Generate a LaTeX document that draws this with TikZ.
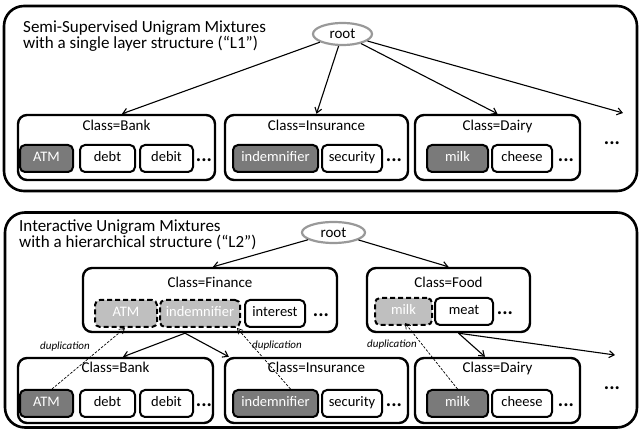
\documentclass[tikz,border=0pt]{standalone}
\usepackage{fontspec}
\setmainfont{Carlito}
\usetikzlibrary{arrows.meta,shapes.geometric}
\definecolor{darkw}{HTML}{7A7A7A}
\definecolor{lightw}{HTML}{BFBFBF}
\definecolor{rootc}{HTML}{999999}
\begin{document}
\begin{tikzpicture}[x=1pt,y=-1pt,
  outerbox/.style={draw, line width=2.6pt, rounded corners=20pt},
  classbox/.style={draw, line width=2.4pt, rounded corners=9pt, minimum height=65pt, inner sep=0pt},
  clabel/.style={anchor=base, inner sep=0pt, font=\fontsize{15}{17}\selectfont},
  title/.style={anchor=base west, inner sep=0pt, font=\fontsize{17}{19}\selectfont},
  wordbox/.style={draw, line width=2pt, rounded corners=5pt, minimum height=27pt, inner sep=0pt,
    text height=9.5pt, text depth=3pt, fill=white, font=\fontsize{14.5}{16}\selectfont},
  known/.style={wordbox, fill=darkw, text=white},
  dup/.style={wordbox, dash pattern=on 5pt off 3pt, fill=lightw, text=white},
  rootnode/.style={draw=rootc, ellipse, line width=2.2pt, inner sep=0pt, font=\fontsize{15}{17}\selectfont},
  more/.style={anchor=base, inner sep=0pt, font=\fontsize{20}{20}\selectfont\bfseries},
  arr/.style={line width=1.1pt, -{Straight Barb[length=5pt,width=7pt]}},
  duparr/.style={line width=0.7pt, dash pattern=on 2.5pt off 1.5pt, -{Straight Barb[length=5pt,width=6pt]}},
  duplabel/.style={inner sep=0pt, font=\fontsize{11}{13}\selectfont\itshape}
]
\useasboundingbox (0,0) rectangle (641,430);

% ---------- L1 ----------
\node[outerbox, minimum width=633pt, minimum height=185pt] (outer1) at (320.5,98.5) {};
\node[title] (t1a) at (23,33) {Semi-Supervised Unigram Mixtures};
\node[title] (t1b) at (23,49) {with a single layer structure (“L1”)};
\node[rootnode, minimum width=59pt, minimum height=22pt] (root1) at (342.5,34) {root};

\node[classbox, minimum width=197pt] (bank1) at (116.5,147.5) {};
\node[clabel] (bank1l) at (116.5,131) {Class=Bank};
\node[known, minimum width=53pt] (atm1) at (46.5,158.5) {ATM};
\node[wordbox, minimum width=55pt] (debt1) at (107.5,158.5) {debt};
\node[wordbox, minimum width=53pt] (debit1) at (166.5,158.5) {debit};
\node[more] (m1a) at (204,162) {...};

\node[classbox, minimum width=183pt] (ins1) at (316.5,147.5) {};
\node[clabel] (ins1l) at (316.5,131) {Class=Insurance};
\node[known, minimum width=85pt] (ind1) at (275.5,158.5) {indemnifier};
\node[wordbox, minimum width=60pt] (sec1) at (352,158.5) {security};
\node[more] (m1b) at (394,162) {...};

\node[classbox, minimum width=165pt] (dairy1) at (497.5,147.5) {};
\node[clabel] (dairy1l) at (497.5,131) {Class=Dairy};
\node[known, minimum width=61pt] (milk1) at (457.5,158.5) {milk};
\node[wordbox, minimum width=60pt] (cheese1) at (522,158.5) {cheese};
\node[more] (m1c) at (566,162) {...};
\node[more] (m1d) at (612,145) {...};

\coordinate (r1) at (623,113);
\draw[arr] (root1) -- ([xshift=5.5pt]bank1.north);
\draw[arr] (root1) -- (ins1.north);
\draw[arr] (root1) -- (dairy1.north);
\draw[arr] (root1) -- (r1);

% ---------- L2 ----------
\node[outerbox, minimum width=632pt, minimum height=215pt] (outer2) at (321,320) {};
\node[title] (t2a) at (19,232) {Interactive Unigram Mixtures};
\node[title] (t2b) at (19,248) {with a hierarchical structure (“L2”)};
\node[rootnode, minimum width=63pt, minimum height=21pt] (root2) at (333.5,232.5) {root};

\node[classbox, minimum width=254pt, minimum height=64pt] (fin) at (210,300) {};
\node[clabel] (finl) at (210,288) {Class=Finance};
\node[dup, minimum width=62pt] (atmd) at (126,313.5) {ATM};
\node[dup, minimum width=80pt] (indd) at (200,313.5) {indemnifier};
\node[wordbox, minimum width=60pt] (int) at (275,313.5) {interest};
\node[more] (m2a) at (321,317) {...};

\node[classbox, minimum width=163pt, minimum height=64pt] (food) at (448.5,300) {};
\node[clabel] (foodl) at (448.5,288) {Class=Food};
\node[dup, minimum width=57pt] (milkd) at (403.5,311.5) {milk};
\node[wordbox, minimum width=58pt] (meat) at (464,311.5) {meat};
\node[more] (m2b) at (505,315) {...};

\node[classbox, minimum width=195pt] (bank2) at (115.5,390.5) {};
\node[clabel] (bank2l) at (115.5,373) {Class=Bank};
\node[known, minimum width=53pt] (atm2) at (46.5,403.5) {ATM};
\node[wordbox, minimum width=55pt] (debt2) at (107.5,403.5) {debt};
\node[wordbox, minimum width=53pt] (debit2) at (166.5,403.5) {debit};
\node[more] (m2c) at (204,407) {...};

\node[classbox, minimum width=183pt] (ins2) at (316.5,390.5) {};
\node[clabel] (ins2l) at (316.5,373) {Class=Insurance};
\node[known, minimum width=85pt] (ind2) at (275.5,403.5) {indemnifier};
\node[wordbox, minimum width=60pt] (sec2) at (352,403.5) {security};
\node[more] (m2d) at (394,407) {...};

\node[classbox, minimum width=165pt] (dairy2) at (497.5,390.5) {};
\node[clabel] (dairy2l) at (497.5,373) {Class=Dairy};
\node[known, minimum width=61pt] (milk2) at (457.5,403.5) {milk};
\node[wordbox, minimum width=60pt] (cheese2) at (522,403.5) {cheese};
\node[more] (m2e) at (566,407) {...};
\node[more] (m2f) at (612,390) {...};

\coordinate (r2) at (615,355);
\draw[arr] (root2) -- ([xshift=3pt]fin.north);
\draw[arr] (root2) -- (food.north);
\draw[arr] ([xshift=-25pt]fin.south) -- ([xshift=7.5pt]bank2.north);
\draw[arr] ([xshift=-25pt]fin.south) -- ([xshift=5pt]ins2.north west);
\draw[arr] ([xshift=10pt]food.south) -- ([xshift=-12.5pt]dairy2.north);
\draw[arr] ([xshift=10pt]food.south) -- (r2);

\draw[duparr] ([xshift=5.5pt]atm2.north) -- ([xshift=-1pt]atmd.south);
\draw[duparr] ([xshift=15pt]ind2.north) -- ([xshift=37pt]indd.south);
\draw[duparr] (milk2.north) -- ([xshift=1.5pt,yshift=3pt]milkd.south);
\node[duplabel] (d1) at (65,347) {duplication};
\node[duplabel] (d2) at (277,346) {duplication};
\node[duplabel] (d3) at (392,345) {duplication};
\end{tikzpicture}
\end{document}
